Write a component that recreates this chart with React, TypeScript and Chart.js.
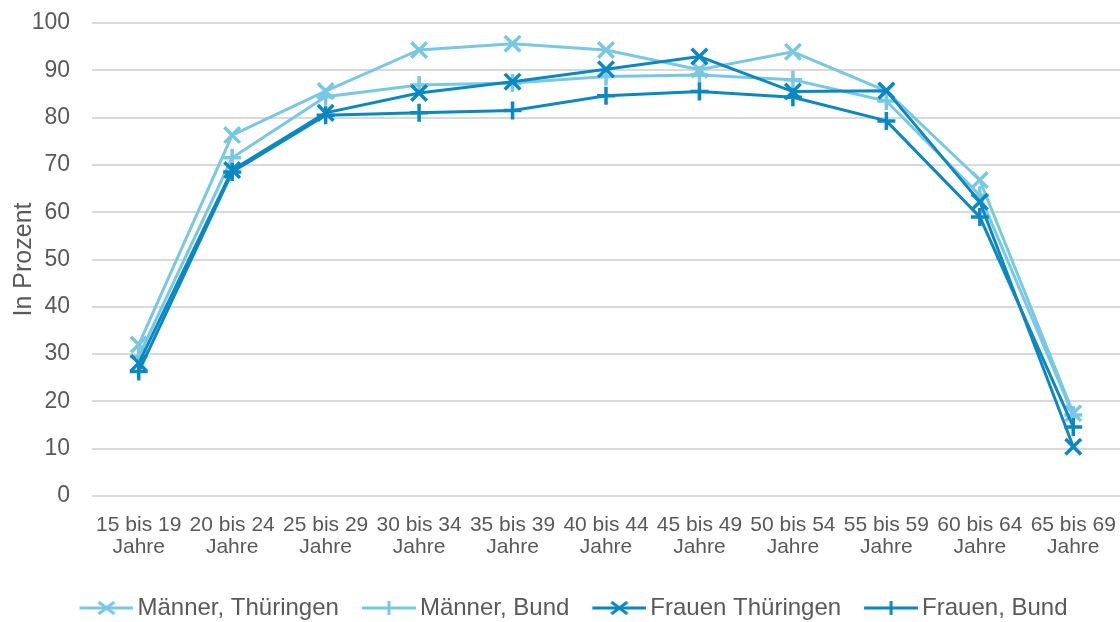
import React, { useEffect, useRef } from "react";
import { Chart, registerables } from "chart.js";

Chart.register(...registerables);

const categories: string[][] = [
  ["15 bis 19", "Jahre"],
  ["20 bis 24", "Jahre"],
  ["25 bis 29", "Jahre"],
  ["30 bis 34", "Jahre"],
  ["35 bis 39", "Jahre"],
  ["40 bis 44", "Jahre"],
  ["45 bis 49", "Jahre"],
  ["50 bis 54", "Jahre"],
  ["55 bis 59", "Jahre"],
  ["60 bis 64", "Jahre"],
  ["65 bis 69", "Jahre"],
];

const maennerThueringen = [32.0, 76.3, 85.6, 94.3, 95.6, 94.3, 90.1, 93.9, 85.6, 66.8, 17.5];
const maennerBund = [29.5, 71.5, 84.4, 86.9, 87.3, 88.7, 89.0, 88.0, 83.5, 63.6, 17.1];
const frauenThueringen = [28.1, 68.9, 81.0, 85.2, 87.6, 90.2, 92.9, 85.5, 85.7, 62.2, 10.4];
const frauenBund = [26.3, 68.5, 80.5, 81.0, 81.5, 84.6, 85.5, 84.3, 79.3, 59.0, 14.6];

const seriesLabels = ["Männer, Thüringen", "Männer, Bund", "Frauen Thüringen", "Frauen, Bund"];

const LIGHT = "#78C8E4";
const DARK = "#0B88C2";
const TEXT = "#595959";
const GRID = "#D9D9D9";
const FONT = "'Liberation Sans', Arial, sans-serif";

function legendIcon(color: string, kind: "x" | "+"): HTMLCanvasElement {
  const c = document.createElement("canvas");
  c.width = 75;
  c.height = 20;
  const ctx = c.getContext("2d")!;
  ctx.strokeStyle = color;
  ctx.lineWidth = 3;
  ctx.beginPath();
  ctx.moveTo(21, 10);
  ctx.lineTo(75, 10);
  ctx.stroke();
  const cx = 48;
  const cy = 10;
  ctx.beginPath();
  if (kind === "x") {
    ctx.moveTo(cx - 8, cy - 6);
    ctx.lineTo(cx + 8, cy + 6);
    ctx.moveTo(cx - 8, cy + 6);
    ctx.lineTo(cx + 8, cy - 6);
  } else {
    ctx.moveTo(cx, cy - 7);
    ctx.lineTo(cx, cy + 7);
  }
  ctx.stroke();
  return c;
}

export default function App() {
  const ref = useRef<HTMLCanvasElement | null>(null);

  useEffect(() => {
    if (!ref.current) return;
    const icons = [
      legendIcon(LIGHT, "x"),
      legendIcon(LIGHT, "+"),
      legendIcon(DARK, "x"),
      legendIcon(DARK, "+"),
    ];
    const mk = (label: string, data: number[], color: string, style: string, order: number) => ({
      label,
      data,
      borderColor: color,
      backgroundColor: color,
      borderWidth: 3,
      pointStyle: style,
      pointRadius: style === "crossRot" ? 11 : 9,
      pointBorderWidth: 3.5,
      pointBorderColor: color,
      pointBackgroundColor: color,
      tension: 0,
      fill: false,
      clip: false,
      order,
    });
    const chart = new Chart(ref.current, {
      type: "line",
      data: {
        labels: categories,
        datasets: [
          mk(seriesLabels[0], maennerThueringen, LIGHT, "crossRot", 4),
          mk(seriesLabels[1], maennerBund, LIGHT, "cross", 3),
          mk(seriesLabels[2], frauenThueringen, DARK, "crossRot", 2),
          mk(seriesLabels[3], frauenBund, DARK, "cross", 1),
        ],
      },
      options: {
        responsive: false,
        animation: false,
        devicePixelRatio: 1,
        layout: { autoPadding: false, padding: { top: 23, left: 14, right: 0, bottom: 10 } },
        plugins: {
          tooltip: { enabled: false },
          legend: {
            position: "bottom",
            labels: {
              usePointStyle: true,
              pointStyleWidth: 59,
              padding: 10,
              color: TEXT,
              font: { family: FONT, size: 24 },
              sort: (a: any, b: any) => a.datasetIndex - b.datasetIndex,
              generateLabels: (ch: any) => {
                const items = (Chart as any).defaults.plugins.legend.labels.generateLabels(ch);
                return items.map((it: any) => ({
                  ...it,
                  pointStyle: icons[it.datasetIndex],
                  fontColor: TEXT,
                }));
              },
            },
          },
        },
        scales: {
          x: {
            type: "category",
            offset: true,
            grid: { display: false, drawTicks: false },
            border: { display: false },
            ticks: {
              color: TEXT,
              font: { family: FONT, size: 21, lineHeight: 1.05 },
              padding: 18,
              maxRotation: 0,
              autoSkip: false,
            },
            afterFit: (scale: any) => {
              scale.height = 144 - 44 - 10;
              scale.paddingLeft = 0;
              scale.paddingRight = 0;
            },
          },
          y: {
            min: 0,
            max: 100,
            ticks: {
              stepSize: 10,
              color: TEXT,
              font: { family: FONT, size: 23 },
              padding: 22,
            },
            grid: { color: GRID, lineWidth: 2, drawTicks: false },
            border: { display: false },
            title: {
              display: true,
              text: "In Prozent",
              color: TEXT,
              font: { family: FONT, size: 25, lineHeight: 1.2 },
              padding: { top: -5, bottom: 0 },
            },
            afterFit: (scale: any) => {
              scale.width = 78;
              scale.paddingTop = 0;
              scale.paddingBottom = 0;
            },
          },
        },
      },
    } as any);
    return () => chart.destroy();
  }, []);

  return (
    <div
      style={{
        position: "fixed",
        left: 0,
        top: 0,
        width: 1120,
        height: 622,
        overflow: "hidden",
        background: "#fff",
      }}
    >
      <canvas ref={ref} width={1120} height={640} style={{ width: 1120, height: 640, display: "block" }} />
    </div>
  );
}
